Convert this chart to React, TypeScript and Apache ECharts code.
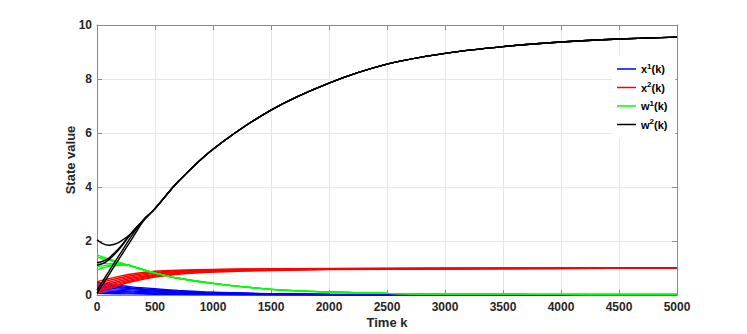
import React, { useEffect, useRef } from "react";
import * as echarts from "echarts";

// ---------- data ----------
const xTicks = [0, 500, 1000, 1500, 2000, 2500, 3000, 3500, 4000, 4500, 5000];
const yTicks = [0, 2, 4, 6, 8, 10];

// x^1(k): blue trajectories
const tX1 = [0, 100, 200, 300, 500, 700, 1000, 1500, 2000, 2500, 3000, 4000, 5000];
const x1Lines = [
  [0.48, 0.41, 0.35, 0.3, 0.23, 0.17, 0.1, 0.05, 0.025, 0.012, 0.006, 0.002, 0.0],
  [0.42, 0.36, 0.31, 0.26, 0.2, 0.145, 0.09, 0.045, 0.022, 0.011, 0.005, 0.002, 0.0],
  [0.36, 0.31, 0.27, 0.23, 0.17, 0.125, 0.078, 0.038, 0.019, 0.009, 0.005, 0.001, 0.0],
  [0.3, 0.26, 0.22, 0.19, 0.14, 0.1, 0.065, 0.032, 0.016, 0.008, 0.004, 0.001, 0.0],
  [0.24, 0.2, 0.17, 0.145, 0.11, 0.08, 0.052, 0.026, 0.013, 0.007, 0.003, 0.001, 0.0],
  [0.18, 0.15, 0.13, 0.11, 0.08, 0.06, 0.04, 0.02, 0.01, 0.005, 0.003, 0.001, 0.0],
  [0.12, 0.1, 0.085, 0.07, 0.05, 0.04, 0.026, 0.013, 0.007, 0.004, 0.002, 0.0, 0.0],
  [0.06, 0.05, 0.045, 0.04, 0.03, 0.022, 0.015, 0.008, 0.004, 0.002, 0.001, 0.0, 0.0],
];

// x^2(k): red trajectories
const tX2 = [0, 50, 100, 200, 300, 500, 700, 1000, 1500, 2000, 3000, 4000, 5000];
const x2Lines = [
  [0.49, 0.55, 0.6, 0.7, 0.78, 0.88, 0.92, 0.95, 0.97, 0.98, 0.99, 1.0, 1.0],
  [0.42, 0.48, 0.54, 0.64, 0.72, 0.84, 0.9, 0.94, 0.96, 0.975, 0.99, 0.995, 1.0],
  [0.35, 0.41, 0.47, 0.58, 0.67, 0.8, 0.87, 0.92, 0.95, 0.97, 0.985, 0.99, 0.995],
  [0.28, 0.34, 0.41, 0.52, 0.62, 0.76, 0.84, 0.9, 0.94, 0.96, 0.98, 0.99, 0.99],
  [0.2, 0.27, 0.34, 0.47, 0.57, 0.72, 0.81, 0.88, 0.93, 0.955, 0.975, 0.985, 0.99],
  [0.13, 0.2, 0.28, 0.42, 0.53, 0.69, 0.79, 0.86, 0.92, 0.95, 0.97, 0.98, 0.99],
  [0.06, 0.14, 0.22, 0.37, 0.49, 0.66, 0.77, 0.85, 0.91, 0.94, 0.965, 0.98, 0.99],
];

// w^1(k): green trajectories (early part differs, then a common tail)
const tW1Early = [0, 50, 100, 150, 200, 270];
const w1Early = [
  [1.48, 1.41, 1.34, 1.27, 1.2, 1.11],
  [1.4, 1.35, 1.29, 1.23, 1.17, 1.11],
  [1.17, 1.17, 1.16, 1.15, 1.13, 1.11],
  [1.05, 1.08, 1.1, 1.11, 1.11, 1.1],
  [0.93, 1.0, 1.05, 1.08, 1.1, 1.1],
];
const tW1Tail = [350, 500, 700, 1000, 1500, 2000, 2500, 3000, 3500, 4000, 4500, 5000];
const w1Tail = [1.0, 0.81, 0.62, 0.43, 0.21, 0.11, 0.06, 0.038, 0.028, 0.022, 0.02, 0.02];

// w^2(k): black trajectories (early part differs, then a common tail)
const tW2Early = [0, 50, 100, 150, 200, 300, 400, 500];
const w2Early = [
  [2.04, 1.9, 1.84, 1.88, 1.98, 2.3, 2.76, 3.2],
  [1.2, 1.25, 1.36, 1.56, 1.78, 2.32, 2.78, 3.2],
  [1.1, 1.16, 1.3, 1.5, 1.74, 2.3, 2.78, 3.2],
  [0.18, 0.52, 0.86, 1.2, 1.53, 2.2, 2.78, 3.2],
  [0.06, 0.4, 0.73, 1.07, 1.4, 2.07, 2.74, 3.2],
];
const tW2Tail = [700, 1000, 1500, 2000, 2500, 3000, 3500, 4000, 4500, 5000];
const w2Tail = [4.2, 5.4, 6.85, 7.85, 8.55, 8.95, 9.2, 9.37, 9.48, 9.55];

const groups = [
  { key: "x1", base: "x", sup: "1", color: "#0000ff" },
  { key: "x2", base: "x", sup: "2", color: "#ff0000" },
  { key: "w1", base: "w", sup: "1", color: "#00ff00" },
  { key: "w2", base: "w", sup: "2", color: "#000000" },
];

// ---------- helpers ----------
const zip = (t: number[], v: number[]) => t.map((tt, i) => [tt, v[i]]);

const FONT = "'Liberation Sans', Arial, Helvetica, sans-serif";
const TXT = "#262626";
const AXIS = "#8a8a8a";

export default function App() {
  const ref = useRef<HTMLDivElement>(null);

  useEffect(() => {
    if (!ref.current) return;
    const chart = echarts.init(ref.current, undefined, { renderer: "svg" });

    const lineBase = (name: string, color: string, data: number[][]) => ({
      type: "line",
      name,
      data,
      showSymbol: false,
      symbol: "none",
      smooth: 0.3,
      lineStyle: { color, width: 1.4 },
      itemStyle: { color },
      emphasis: { disabled: true },
      silent: true,
      z: 2,
    });

    const series: any[] = [];
    x1Lines.forEach((v) => series.push(lineBase("x1", "#0000ff", zip(tX1, v))));
    x2Lines.forEach((v) => series.push(lineBase("x2", "#ff0000", zip(tX2, v))));
    w1Early.forEach((v) =>
      series.push(lineBase("w1", "#00ff00", [...zip(tW1Early, v), ...zip(tW1Tail, w1Tail)]))
    );
    w2Early.forEach((v) =>
      series.push(lineBase("w2", "#000000", [...zip(tW2Early, v), ...zip(tW2Tail, w2Tail)]))
    );

    const legendMap: Record<string, { base: string; sup: string }> = {};
    groups.forEach((g) => (legendMap[g.key] = { base: g.base, sup: g.sup }));

    const axisCommon = {
      axisLine: { show: true, onZero: false, lineStyle: { color: AXIS, width: 1 } },
      axisTick: { show: true, inside: true, length: 5, lineStyle: { color: AXIS, width: 1 } },
    };
    const plain = (v: number) => String(v);

    const option: any = {
      animation: false,
      backgroundColor: "#ffffff",
      grid: { left: 97, right: 70, top: 25, bottom: 39, containLabel: false },
      legend: {
        data: groups.map((g) => ({ name: g.key, icon: "rect" })),
        orient: "vertical",
        left: 612,
        top: 56,
        padding: [6, 8, 6, 5],
        itemWidth: 19,
        itemHeight: 1.5,
        itemGap: 4.5,
        backgroundColor: "#ffffff",
        selectedMode: false,
        formatter: (name: string) => {
          const m = legendMap[name];
          return `{b|${m.base}}{s|${m.sup}}{b|(k)}`;
        },
        textStyle: {
          fontFamily: FONT,
          fontWeight: "bold",
          color: "#000",
          fontSize: 11,
          lineHeight: 14,
          rich: {
            b: { fontFamily: FONT, fontWeight: "bold", fontSize: 11, color: "#000", lineHeight: 14 },
            s: {
              fontFamily: FONT,
              fontWeight: "bold",
              fontSize: 8,
              color: "#000",
              lineHeight: 8,
              verticalAlign: "top",
            },
          },
        },
        z: 10,
      },
      xAxis: [
        {
          type: "value",
          min: xTicks[0],
          max: xTicks[xTicks.length - 1],
          interval: xTicks[1] - xTicks[0],
          position: "bottom",
          name: "Time k",
          nameLocation: "middle",
          nameGap: 21,
          nameMoveOverlap: false,
          nameTextStyle: { fontFamily: FONT, fontWeight: "bold", fontSize: 13, color: TXT },
          ...axisCommon,
          axisLabel: {
            show: true,
            margin: 6,
            fontFamily: FONT,
            fontWeight: "bold",
            fontSize: 12,
            color: TXT,
            formatter: plain,
            showMinLabel: true,
            showMaxLabel: true,
            hideOverlap: false,
          },
          splitLine: { show: true, lineStyle: { color: "#e6e6e6", width: 1 } },
        },
        {
          type: "value",
          min: xTicks[0],
          max: xTicks[xTicks.length - 1],
          interval: xTicks[1] - xTicks[0],
          position: "top",
          ...axisCommon,
          axisLabel: { show: false },
          splitLine: { show: false },
        },
      ],
      yAxis: [
        {
          type: "value",
          min: yTicks[0],
          max: yTicks[yTicks.length - 1],
          interval: yTicks[1] - yTicks[0],
          position: "left",
          name: "State value",
          nameLocation: "middle",
          nameGap: 20,
          nameMoveOverlap: false,
          nameTextStyle: { fontFamily: FONT, fontWeight: "bold", fontSize: 13, color: TXT },
          ...axisCommon,
          axisLabel: {
            show: true,
            margin: 5,
            fontFamily: FONT,
            fontWeight: "bold",
            fontSize: 12,
            color: TXT,
            formatter: plain,
            showMinLabel: true,
            showMaxLabel: true,
          },
          splitLine: { show: true, lineStyle: { color: "#e6e6e6", width: 1 } },
        },
        {
          type: "value",
          min: yTicks[0],
          max: yTicks[yTicks.length - 1],
          interval: yTicks[1] - yTicks[0],
          position: "right",
          ...axisCommon,
          axisLabel: { show: false },
          splitLine: { show: false },
        },
      ],
      series,
    };

    chart.setOption(option);
    return () => chart.dispose();
  }, []);

  return (
    <div
      ref={ref}
      style={{ position: "fixed", left: 0, top: 0, width: 747, height: 334, background: "#fff" }}
    />
  );
}
